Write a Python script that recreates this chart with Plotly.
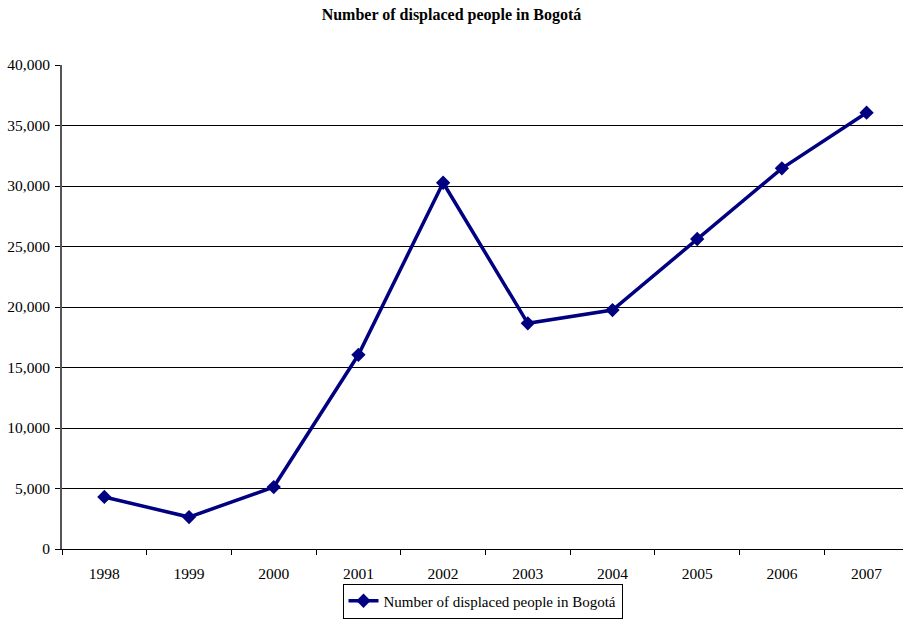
import plotly.graph_objects as go

years = ["1998", "1999", "2000", "2001", "2002", "2003", "2004", "2005", "2006", "2007"]
displaced = [4300, 2640, 5120, 16050, 30270, 18650, 19750, 25620, 31460, 36060]
series_name = "Number of displaced people in Bogotá"
y_ticks = [0, 5000, 10000, 15000, 20000, 25000, 30000, 35000, 40000]
y_labels = ["0", "5,000", "10,000", "15,000", "20,000", "25,000", "30,000", "35,000", "40,000"]

FONT = "Liberation Serif, Times New Roman, serif"

fig = go.Figure()
fig.add_trace(go.Scatter(
    x=list(range(len(years))), y=displaced, name=series_name,
    mode="lines+markers",
    line=dict(color="#000080", width=3.5),
    marker=dict(symbol="diamond", size=11, color="#000080"),
    showlegend=True,
))

fig.update_layout(
    width=903, height=620,
    margin=dict(l=62, r=0, t=65, b=71, autoexpand=False),
    paper_bgcolor="white", plot_bgcolor="white",
    font=dict(family=FONT, size=15, color="black"),
    title=dict(text="<b>Number of displaced people in Bogotá</b>",
               x=0.5, xref="container", y=1 - 14 / 620, yanchor="middle",
               font=dict(family=FONT, size=16, color="black")),
    legend=dict(orientation="h", x=0.5, xanchor="center", xref="paper",
                yref="container", y=1.5 / 620, yanchor="bottom",
                bordercolor="black", borderwidth=1,
                font=dict(family=FONT, size=15, color="black"),
                itemwidth=30),
)

fig.update_xaxes(
    range=[-0.5, 9.43], automargin=False,
    tickmode="array", tickvals=list(range(len(years))), ticktext=years,
    showgrid=False, zeroline=False,
    showline=True, linecolor="black", linewidth=1,
    ticks="", ticklen=0, ticklabelstandoff=10,
    minor=dict(tickmode="array", tickvals=[i - 0.5 for i in range(len(years) + 1)],
               ticks="outside", ticklen=5, tickcolor="black", tickwidth=1),
    tickfont=dict(family=FONT, size=15.5, color="black"),
    fixedrange=True,
)
fig.update_yaxes(
    range=[0, 40000], automargin=False,
    tickmode="array", tickvals=y_ticks, ticktext=y_labels,
    showgrid=True, gridcolor="black", gridwidth=1,
    zeroline=False,
    showline=True, linecolor="#555555", linewidth=2,
    ticks="outside", ticklen=5, tickcolor="black", tickwidth=1,
    ticklabelstandoff=2,
    tickfont=dict(family=FONT, size=15.5, color="black"),
    fixedrange=True,
)

fig.write_html("out.html")
